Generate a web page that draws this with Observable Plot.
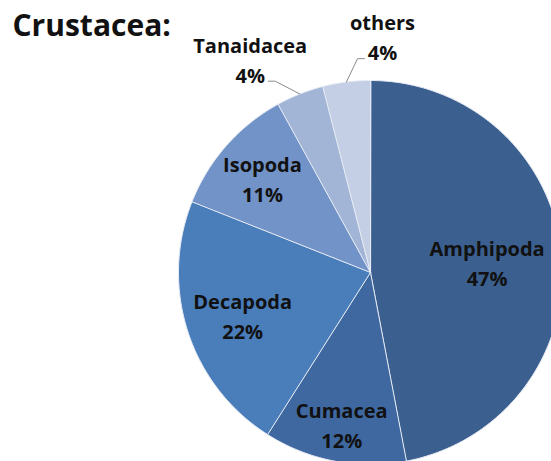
<!DOCTYPE html>
<html>
<head>
<meta charset="utf-8">
<script src="https://cdn.jsdelivr.net/npm/d3@7"></script>
<script src="https://cdn.jsdelivr.net/npm/@observablehq/plot@0.6"></script>
<style>
  body { margin: 0; background: #fff; }
</style>
</head>
<body>
<div id="chart"></div>
<script>
const title = "Crustacea:";
const categories = ["Amphipoda", "Cumacea", "Decapoda", "Isopoda", "Tanaidacea", "others"];
const shares = [47, 12, 22, 11, 4, 4];
const sliceColors = ["#3b5f8f", "#3f68a1", "#4a7ebb", "#7193c8", "#a3b5d7", "#c4cfe5"];

// Label placement: distance from the centre in radii, along the slice's mid angle
// unless a callout angle (degrees clockwise from 12 o'clock) is given.
const labelPlacement = {
  Amphipoda:  { r: 0.61 },
  Cumacea:    { r: 0.80 },
  Decapoda:   { r: 0.70 },
  Isopoda:    { r: 0.75 },
  Tanaidacea: { r: 1.28, angle: 330.7, leader: 1 },
  others:     { r: 1.235, angle: 2.9, leader: -1 }
};

const W = 551, H = 461;
const R = 192, cx = 370, cy = 272;   // pie radius and centre in the plot frame
const lineGap = 30;                   // spacing of the two label lines
const deg = Math.PI / 180;

const pie = d3.pie().sort(null).value(d => d.value);
const arcs = pie(categories.map((name, i) => ({ name, value: shares[i] })));
const pt = (a, r) => [r * Math.sin(a), r * Math.cos(a)];

// each slice as a closed polygon: centre then points along its arc
const outline = arcs.flatMap(a => {
  const n = Math.max(2, Math.ceil((a.endAngle - a.startAngle) / deg));
  const pts = [{ name: a.data.name, x: 0, y: 0 }];
  for (let k = 0; k <= n; k++) {
    const t = a.startAngle + (a.endAngle - a.startAngle) * k / n;
    const [x, y] = pt(t, R);
    pts.push({ name: a.data.name, x, y });
  }
  return pts;
});

const labels = arcs.map(a => {
  const p = labelPlacement[a.data.name];
  const mid = (a.startAngle + a.endAngle) / 2;
  const ang = p.angle != null ? p.angle * deg : mid;
  const [x, y] = pt(ang, p.r * R);
  return { name: a.data.name, x, y, mid, leader: p.leader, text: `${a.data.name}\n${a.data.value}%` };
});

// callout leaders: from the slice edge to an elbow, then a short run beside the value line
const leaders = labels.filter(d => d.leader).flatMap(d => {
  const [ax, ay] = pt(d.mid, R);
  const yLine = d.y - lineGap / 2 - 8;
  const endX = d.x + d.leader * 18, elbowX = endX + d.leader * 7;
  return [
    { name: d.name, x: ax, y: ay },
    { name: d.name, x: elbowX, y: yLine },
    { name: d.name, x: endX, y: yLine }
  ];
});

const chart = Plot.plot({
  width: W,
  height: H,
  margin: 0,
  x: { domain: [-cx, W - cx], range: [0, W], axis: null },
  y: { domain: [cy - H, cy], range: [H, 0], axis: null },
  color: { domain: categories, range: sliceColors },
  style: { fontFamily: "'Open Sans', sans-serif", background: "#fff" },
  marks: [
    Plot.line(outline, { x: "x", y: "y", z: "name", fill: "name", stroke: "#e6ebf4", strokeWidth: 1, curve: "linear-closed" }),
    Plot.line(leaders, { x: "x", y: "y", z: "name", stroke: "#8a8a8a", strokeWidth: 1 }),
    Plot.text(labels, { x: "x", y: "y", text: "text", fontSize: 20, fontWeight: "bold", lineHeight: 1.5, fill: "#111" }),
    Plot.text([title], { frameAnchor: "top-left", lineAnchor: "middle", dx: 12, dy: 26, fontSize: 30, fontWeight: "bold", fill: "#111" })
  ]
});

document.getElementById("chart").append(chart);
</script>
</body>
</html>
